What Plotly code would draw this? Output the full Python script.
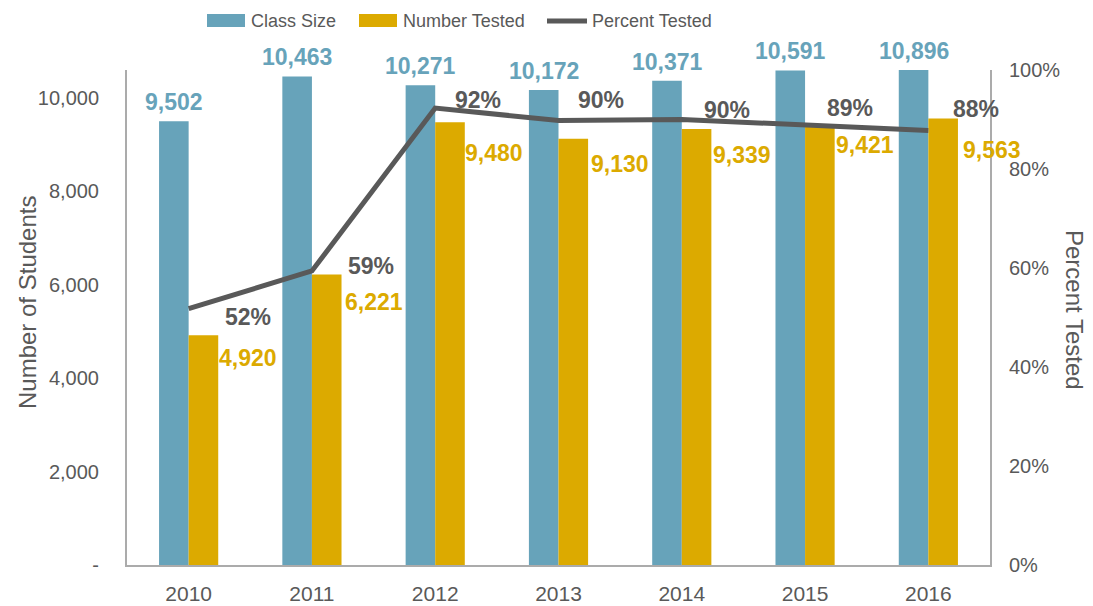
import plotly.graph_objects as go

years = ["2010", "2011", "2012", "2013", "2014", "2015", "2016"]
class_size = [9502, 10463, 10271, 10172, 10371, 10591, 10896]
number_tested = [4920, 6221, 9480, 9130, 9339, 9421, 9563]
percent_tested = [0.518, 0.594, 0.923, 0.898, 0.900, 0.890, 0.878]
left_ticks = [0, 2000, 4000, 6000, 8000, 10000]
left_ticktext = ["-", "2,000", "4,000", "6,000", "8,000", "10,000"]
series_names = ["Class Size", "Number Tested", "Percent Tested"]

# label offsets in pixels (style only)
pct_offsets = [(59, -8), (59, 5), (43, 8), (42, 20), (45, 10), (45, 16), (48, 21)]
num_offsets = [(59, -23), (62, -28), (59, -31), (61, -25), (60, -26), (60, -20), (64, -32)]

BLUE = "#67a3ba"
GOLD = "#dcaa00"
GREY = "#595959"
AXIS = "#ababab"
FONT = "Liberation Sans, Arial, sans-serif"
YMAX = 10600

W, H = 1093, 606
ML, MR, MT, MB = 127, 103, 70, 41
PW, PH = W - ML - MR, H - MT - MB


def px(x):
    return (x - ML) / PW


def py(y):
    return (H - MB - y) / PH


fig = go.Figure()
fig.add_trace(go.Bar(x=years, y=class_size, name=series_names[0], marker=dict(color=BLUE, line=dict(width=0))))
fig.add_trace(go.Bar(x=years, y=number_tested, name=series_names[1], marker=dict(color=GOLD, line=dict(width=0))))
fig.add_trace(go.Scatter(x=years, y=percent_tested, name=series_names[2], yaxis="y2", mode="lines",
                         line=dict(color=GREY, width=5)))

ann = []
for i, yr in enumerate(years):
    ann.append(dict(x=i, y=min(class_size[i], YMAX), xref="x", yref="y", text=f"{class_size[i]:,}",
                    showarrow=False, xshift=-14.7, yshift=19, yanchor="middle",
                    font=dict(family=FONT, size=23, color=BLUE, weight="bold")))
    dx, dy = num_offsets[i]
    ann.append(dict(x=i, y=number_tested[i], xref="x", yref="y", text=f"{number_tested[i]:,}",
                    showarrow=False, xshift=dx, yshift=dy, yanchor="middle",
                    font=dict(family=FONT, size=23, color=GOLD, weight="bold")))
    dx, dy = pct_offsets[i]
    ann.append(dict(x=i, y=percent_tested[i], xref="x", yref="y2", text=f"{round(percent_tested[i]*100)}%",
                    showarrow=False, xshift=dx, yshift=dy, yanchor="middle",
                    font=dict(family=FONT, size=23, color=GREY, weight="bold")))

ann.append(dict(x=px(27), y=py(303), xref="paper", yref="paper", text="Number of Students", textangle=-90,
                xanchor="center", yanchor="middle",
                showarrow=False, font=dict(family=FONT, size=24, color=GREY)))
ann.append(dict(x=px(1075), y=py(310), xref="paper", yref="paper", text="Percent Tested", textangle=90,
                xanchor="center", yanchor="middle",
                showarrow=False, font=dict(family=FONT, size=24, color=GREY)))

# custom legend (wide swatches like the reference)
shapes = []
legend_items = [(207, 245, 249, "rect", BLUE), (359, 397, 401, "rect", GOLD), (547, 587, 590, "line", GREY)]
for (x0, x1, tx, kind, col), name in zip(legend_items, series_names):
    if kind == "rect":
        shapes.append(dict(type="rect", xref="paper", yref="paper", x0=px(x0), x1=px(x1), y0=py(27), y1=py(14),
                           fillcolor=col, line=dict(width=0)))
    else:
        shapes.append(dict(type="line", xref="paper", yref="paper", x0=px(x0), x1=px(x1), y0=py(21), y1=py(21),
                           line=dict(color=col, width=5)))
    ann.append(dict(x=px(tx), y=py(21), xref="paper", yref="paper", text=name, showarrow=False,
                    xanchor="left", yanchor="middle", font=dict(family=FONT, size=18, color=GREY)))

fig.update_layout(
    width=W, height=H,
    margin=dict(l=ML, r=MR, t=MT, b=MB, autoexpand=False),
    plot_bgcolor="white", paper_bgcolor="white",
    barmode="group", bargap=0.52, bargroupgap=0,
    font=dict(family=FONT, color=GREY),
    showlegend=False,
    xaxis=dict(type="category", range=[-0.5, len(years) - 0.5], showline=True, linecolor=AXIS,
               linewidth=2, showgrid=False, ticks="", tickfont=dict(family=FONT, size=21, color=GREY),
               ticklabelstandoff=9),
    yaxis=dict(range=[0, YMAX], tickvals=left_ticks, ticktext=left_ticktext, showline=True,
               linecolor=AXIS, linewidth=2, showgrid=False, zeroline=False, ticks="",
               tickfont=dict(family=FONT, size=20, color=GREY), ticklabelstandoff=22),
    yaxis2=dict(range=[0, 1], overlaying="y", side="right", tickformat=".0%", dtick=0.2, tick0=0,
                showline=True, linecolor=AXIS, linewidth=2, showgrid=False, zeroline=False, ticks="",
                tickfont=dict(family=FONT, size=20, color=GREY), ticklabelstandoff=13),
    shapes=shapes,
    annotations=ann,
)

fig.write_html("out.html", config={"displayModeBar": False},
               post_script="document.body.style.margin='0';document.body.style.overflow='hidden';")
